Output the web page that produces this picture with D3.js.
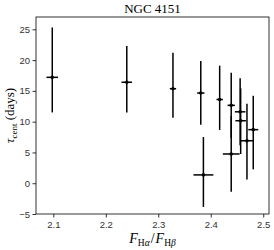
<!DOCTYPE html>
<html>
<head>
<meta charset="utf-8">
<script src="https://cdn.jsdelivr.net/npm/d3@7"></script>
<style>
  body { margin: 0; background: #fff; }
  svg { font-family: "Liberation Serif", "DejaVu Serif", serif; }
  .axis text { font-size: 9.5px; fill: #333; }
  .axis path, .axis line { stroke: #000; stroke-width: 0.8px; }
</style>
</head>
<body>
<div id="chart"></div>
<script>
// Flux ratio (x) and centroid lag (y) for each epoch
let ratio   = [2.098, 2.240, 2.328, 2.381, 2.386, 2.417, 2.439, 2.439, 2.456, 2.457, 2.469, 2.481];
let ratioErr = [0.011, 0.010, 0.006, 0.007, 0.019, 0.006, 0.007, 0.016, 0.010, 0.010, 0.012, 0.0095];
let lag     = [17.2, 16.4, 15.35, 14.65, 1.35, 13.6, 12.65, 4.75, 11.6, 10.15, 6.9, 8.7];
let lagLow  = [11.5, 11.5, 10.65, 9.5, -3.85, 8.65, 7.35, -1.4, 6.15, 4.75, 0.6, 2.25];
let lagHigh = [25.3, 22.3, 21.2, 19.85, 7.5, 19.1, 17.95, 10.9, 17.05, 15.4, 12.9, 14.2];

let xTicks = [2.1, 2.2, 2.3, 2.4, 2.5];
let yTicks = [-5, 0, 5, 10, 15, 20, 25];

let data = ratio.map((r, i) => ({
    x: r, xe: ratioErr[i], y: lag[i], lo: lagLow[i], hi: lagHigh[i]
}));

let margin = {top: 17, right: 5, bottom: 36, left: 36};
let width = 274 - margin.left - margin.right,
    height = 250 - margin.top - margin.bottom;

let svg = d3.select("#chart").append("svg")
    .attr("width", 274)
    .attr("height", 250);

let g = svg.append("g")
    .attr("transform", `translate(${margin.left},${margin.top})`);

let xScale = d3.scaleLinear().domain([2.067, 2.511]).range([0, width]);
let yScale = d3.scaleLinear().domain([-5, 27]).range([height, 0]);

// axes (outward ticks on left and bottom only)
g.append("g")
    .attr("class", "axis")
    .attr("transform", `translate(0,${height})`)
    .call(d3.axisBottom(xScale).tickValues(xTicks).tickSize(3.5).tickPadding(3.5)
        .tickFormat(d3.format(".1f")))
    .select(".domain").remove();

g.append("g")
    .attr("class", "axis")
    .call(d3.axisLeft(yScale).tickValues(yTicks).tickSize(3.5).tickPadding(2.5)
        .tickFormat(d => d < 0 ? "\u2212" + Math.abs(d) : d))
    .select(".domain").remove();

// frame
g.append("rect")
    .attr("width", width)
    .attr("height", height)
    .attr("fill", "none")
    .attr("stroke", "#000")
    .attr("stroke-width", 0.8);

// error bars
let bars = g.selectAll(".err")
    .data(data)
    .enter().append("g")
    .attr("class", "err");

bars.append("line")
    .attr("x1", d => xScale(d.x))
    .attr("x2", d => xScale(d.x))
    .attr("y1", d => yScale(d.lo))
    .attr("y2", d => yScale(d.hi))
    .attr("stroke", "#000")
    .attr("stroke-width", 1.5);

bars.append("line")
    .attr("x1", d => xScale(d.x - d.xe))
    .attr("x2", d => xScale(d.x + d.xe))
    .attr("y1", d => yScale(d.y))
    .attr("y2", d => yScale(d.y))
    .attr("stroke", "#000")
    .attr("stroke-width", 1.5);

bars.append("circle")
    .attr("cx", d => xScale(d.x))
    .attr("cy", d => yScale(d.y))
    .attr("r", 1.8)
    .attr("fill", "#000");

// title
svg.append("text")
    .attr("x", margin.left + width / 2)
    .attr("y", 13)
    .attr("text-anchor", "middle")
    .style("font-size", "13px")
    .text("NGC 4151");

// y label
let ylab = svg.append("text")
    .attr("transform", `translate(14,${margin.top + height / 2}) rotate(-90)`)
    .attr("text-anchor", "middle")
    .style("font-size", "13px");
ylab.append("tspan").style("font-style", "italic").text("τ");
ylab.append("tspan").attr("dy", 3).style("font-size", "9px").text("cent");
ylab.append("tspan").attr("dy", -3).text(" (days)");

// x label
let xlab = svg.append("text")
    .attr("x", margin.left + width / 2)
    .attr("y", 243)
    .attr("text-anchor", "middle")
    .style("font-size", "14px");
xlab.append("tspan").style("font-style", "italic").text("F");
xlab.append("tspan").attr("dy", 3).style("font-size", "9.5px").text("H");
xlab.append("tspan").style("font-size", "9.5px").style("font-style", "italic").text("α");
xlab.append("tspan").attr("dy", -3).attr("dx", 1).text("/");
xlab.append("tspan").attr("dx", 1).style("font-style", "italic").text("F");
xlab.append("tspan").attr("dy", 3).style("font-size", "9.5px").text("H");
xlab.append("tspan").style("font-size", "9.5px").style("font-style", "italic").text("β");
</script>
</body>
</html>
